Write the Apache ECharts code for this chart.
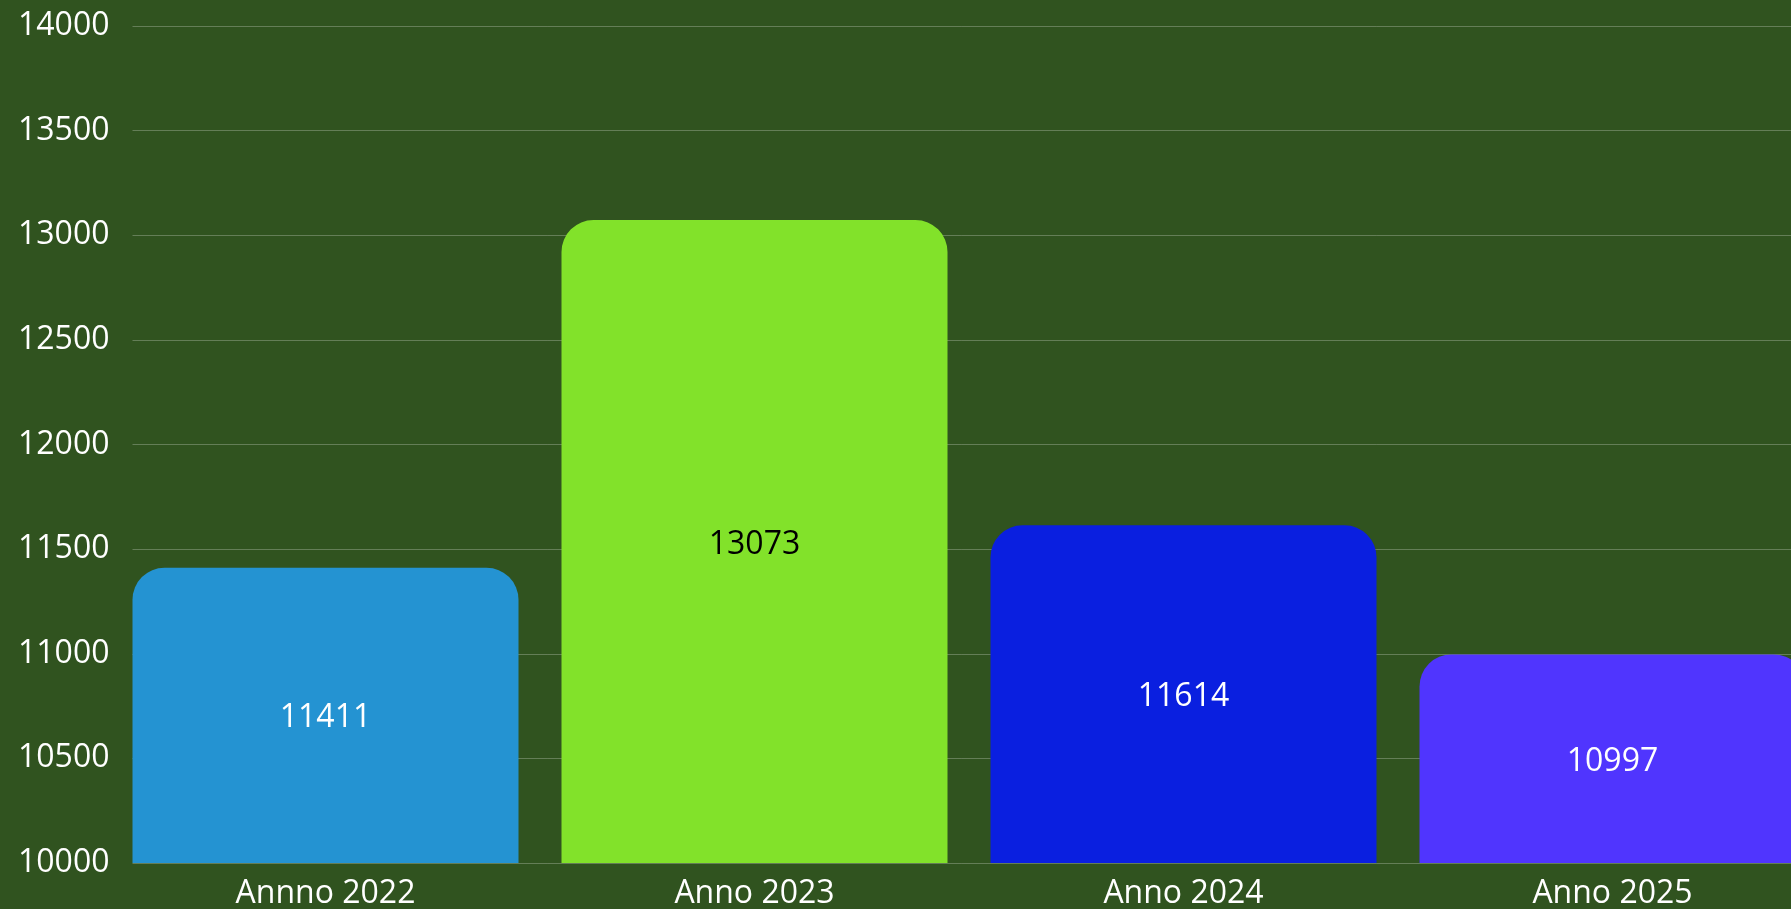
<!DOCTYPE html>
<html>
<head>
<meta charset="utf-8">
<script src="https://cdn.jsdelivr.net/npm/echarts@6/dist/echarts.min.js"></script>
<style>
html,body{margin:0;padding:0;background:#30531f;}
#chart{width:1791px;height:909px;}
</style>
</head>
<body>
<div id="chart"></div>
<script>
const categories = ['Annno 2022', 'Anno 2023', 'Anno 2024', 'Anno 2025'];
const values = [11411, 13073, 11614, 10997];
const barColors = ['#2493d2', '#82e22a', '#0a1fe0', '#5035fe'];
const labelColors = ['#ffffff', '#000000', '#ffffff', '#ffffff'];
const yMin = 10000, yMax = 14000, yStep = 500;

const chart = echarts.init(document.getElementById('chart'));
const font = '"Open Sans", sans-serif';
chart.setOption({
  backgroundColor: '#30531f',
  animation: false,
  grid: [
    { left: 111, top: 26, width: 1716, bottom: 46, outerBoundsMode: 'none', containLabel: false },
    { left: 132.5, top: 26, right: 0, bottom: 46, outerBoundsMode: 'none', containLabel: false }
  ],
  xAxis: [
    {
      type: 'category', gridIndex: 0, data: categories,
      axisLine: { show: false }, axisTick: { show: false },
      axisLabel: { color: '#ffffff', fontSize: 32, fontFamily: font, margin: 15 }
    },
    { type: 'value', gridIndex: 1, show: false, min: 0, max: 1 }
  ],
  yAxis: [
    { type: 'value', gridIndex: 0, min: yMin, max: yMax, interval: yStep, show: false, splitLine: { show: false } },
    {
      type: 'value', gridIndex: 1, min: yMin, max: yMax, interval: yStep,
      axisLine: { show: false }, axisTick: { show: false },
      axisLabel: { color: '#ffffff', fontSize: 32, fontFamily: font, margin: 23, padding: [5, 0, 0, 0], formatter: v => String(v) },
      splitLine: { show: true, lineStyle: { color: 'rgba(255,255,255,0.25)', width: 1 } }
    }
  ],
  series: [{
    type: 'bar', xAxisIndex: 0, yAxisIndex: 0,
    barWidth: 386,
    data: values.map((v, i) => ({
      value: v,
      itemStyle: { color: barColors[i], borderRadius: [32, 32, 0, 0] },
      label: { color: labelColors[i] }
    })),
    label: { show: true, position: 'inside', fontSize: 32, fontFamily: font, offset: [0, 3] }
  }]
});
</script>
</body>
</html>
